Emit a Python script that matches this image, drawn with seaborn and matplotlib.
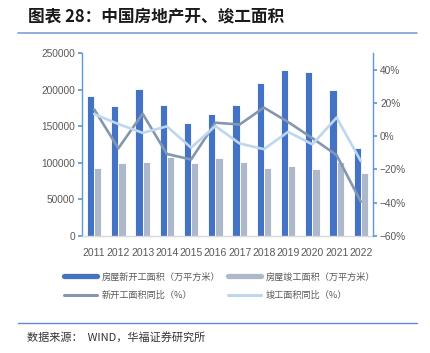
import numpy as np
import pandas as pd
import matplotlib
matplotlib.use("Agg")
import matplotlib.pyplot as plt
from matplotlib.lines import Line2D
from matplotlib.ticker import FuncFormatter
import seaborn as sns

years = ["2011", "2012", "2013", "2014", "2015", "2016", "2017", "2018", "2019", "2020", "2021", "2022"]
new_start = [191237, 177334, 201208, 179592, 154454, 166928, 178654, 209342, 227154, 224433, 198895, 120587]
completed = [92620, 99425, 101435, 107459, 100039, 106128, 101486, 93550, 95942, 91218, 101412, 86222]
new_start_yoy = [16.2, -7.3, 13.5, -10.7, -14.0, 8.1, 7.0, 17.2, 8.5, -1.2, -11.4, -39.4]
completed_yoy = [13.3, 7.3, 2.0, 5.9, -6.9, 6.1, -4.4, -7.8, 2.6, -4.9, 11.2, -15.0]

lab_new = "房屋新开工面积（万平方米）"
lab_comp = "房屋竣工面积（万平方米）"
lab_new_yoy = "新开工面积同比（%）"
lab_comp_yoy = "竣工面积同比（%）"

c_new = "#4472C4"
c_comp = "#ADB9CA"
c_new_yoy = "#8497B0"
c_comp_yoy = "#BDD7EE"
c_text = "#595959"
c_axis = "#5B9BD5"

sns.set_theme(style="white")
plt.rcParams['font.family'] = ['Liberation Sans', 'Noto Sans CJK SC', 'DejaVu Sans']

df = pd.DataFrame({
    "year": years * 2,
    "value": new_start + completed,
    "series": [lab_new] * len(years) + [lab_comp] * len(years),
})

fig = plt.figure(figsize=(4.30, 3.53), dpi=100)
ax = fig.add_axes([82/430, 1-236/353, 291/430, 183/353])

sns.barplot(data=df, x="year", y="value", hue="series", palette=[c_new, c_comp],
            width=0.6, saturation=1, ax=ax, legend=False, edgecolor="white", linewidth=0.6)
ax.set_ylim(0, 250000)
ax.set_yticks(np.arange(0, 250001, 50000))
ax.set_xlabel("")
ax.set_ylabel("")

ax2 = ax.twinx()
idx = np.arange(len(years))
sns.lineplot(x=idx, y=new_start_yoy, ax=ax2, color=c_new_yoy, linewidth=1.9)
sns.lineplot(x=idx, y=completed_yoy, ax=ax2, color=c_comp_yoy, linewidth=1.9)
ax2.set_ylim(-60, 50)
ax2.set_yticks(np.arange(-60, 41, 20))
ax2.yaxis.set_major_formatter(FuncFormatter(lambda v, p: f"{v:.0f}%".replace("-", "\u2212")))
ax.set_xlim(-0.5, len(years) - 0.5)

for a in (ax, ax2):
    for s in a.spines.values():
        s.set_visible(False)
ax.spines['left'].set_visible(True)
ax.spines['left'].set_color(c_axis)
ax.spines['left'].set_linewidth(1.0)
ax.spines['bottom'].set_visible(True)
ax.spines['bottom'].set_color("#D9D9D9")
ax.spines['bottom'].set_linewidth(1.0)
ax2.spines['right'].set_visible(True)
ax2.spines['right'].set_color(c_axis)
ax2.spines['right'].set_linewidth(1.0)

ax.tick_params(axis='y', left=True, length=3, color=c_axis, labelsize=7.3, labelcolor=c_text, pad=2)
ax.tick_params(axis='x', bottom=False, labelsize=7.5, labelcolor=c_text, pad=3)
ax2.tick_params(axis='y', right=True, length=3, color=c_axis, labelsize=7.3, labelcolor=c_text, pad=2)

# Title
fig.text(28/430, 1-17/353, "图表 28：中国房地产开、竣工面积", fontsize=12, fontweight='bold',
         family=['Noto Sans CJK SC'], color="#1a1a1a", va='center', ha='left')
fig.add_artist(Line2D([18/430, 417/430], [1-33/353, 1-33/353], color="#7F9FD8", lw=1.2))

# Legend
handles = [
    Line2D([], [], color=c_new, lw=3.8),
    Line2D([], [], color=c_new_yoy, lw=2.2),
    Line2D([], [], color=c_comp, lw=3.8),
    Line2D([], [], color=c_comp_yoy, lw=2.2),
]
labels = [lab_new, lab_new_yoy, lab_comp, lab_comp_yoy]
leg = fig.legend(handles, labels, ncol=2, loc='upper left', bbox_to_anchor=(56/430, 1-264/353),
                 frameon=False, handlelength=3.6, handletextpad=0.45, columnspacing=0.9,
                 labelspacing=1.0, prop={'family': ['Noto Sans CJK SC'], 'size': 6.6})
for t in leg.get_texts():
    t.set_color(c_text)

# Bottom rule and source
fig.add_artist(Line2D([18/430, 417/430], [1-323/353, 1-323/353], color="#5B8BD0", lw=1.0))
fig.text(27/430, 1-337/353, "数据来源：  WIND，华福证券研究所", fontsize=8,
         family=['Noto Sans CJK SC', 'Liberation Sans'], color="#333333", va='center', ha='left')

fig.savefig("out.png", dpi=100)
